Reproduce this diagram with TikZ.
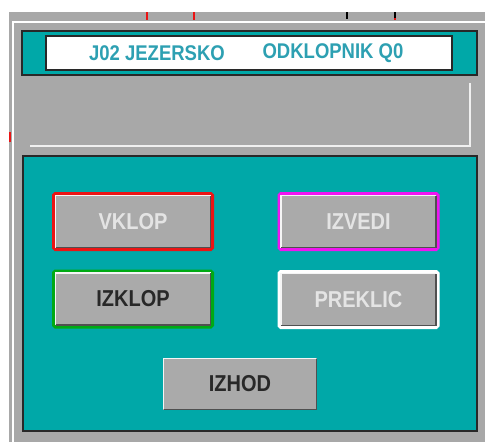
\documentclass[tikz,border=0pt]{standalone}
\usepackage{fontspec}
\usepackage{graphicx}
\setmainfont{Liberation Sans}
\definecolor{panelgray}{RGB}{168,168,168}
\definecolor{btngray}{RGB}{170,170,170}
\definecolor{tealbg}{RGB}{0,168,168}
\definecolor{titletxt}{RGB}{45,160,178}
\definecolor{darkline}{RGB}{40,40,40}
\definecolor{bevdark}{RGB}{80,80,80}
\definecolor{bevlight}{RGB}{245,245,245}
\definecolor{distxt}{RGB}{228,228,228}
\definecolor{ledred}{RGB}{235,20,20}
\definecolor{ledgreen}{RGB}{0,170,20}
\definecolor{ledmag}{RGB}{240,20,240}
\newcommand{\bevelbox}[2]{%
  \draw[bevlight, line width=1.5pt] ([xshift=#2,yshift=#2]#1.south west) |- ([xshift=-#2,yshift=-#2]#1.north east);
  \draw[bevdark, line width=1.5pt] ([xshift=#2,yshift=#2]#1.south west) -| ([xshift=-#2,yshift=-#2]#1.north east);
}
\newcommand{\tallt}[1]{\scalebox{1}[1.15]{#1}}
\begin{document}
\begin{tikzpicture}[x=1pt,y=-1pt,
  btn/.style={draw=#1, line width=3.5pt, fill=btngray, rounded corners=1.5pt, inner sep=0pt,
    minimum width=158.5pt, minimum height=55.5pt, font=\bfseries\fontsize{20}{20}\selectfont},
  plainbtn/.style={draw=none, fill=btngray, inner sep=0pt,
    minimum width=154pt, minimum height=52pt, font=\bfseries\fontsize{20}{20}\selectfont},
  titletext/.style={text=titletxt, inner sep=0pt, font=\bfseries\fontsize{18.5}{18.5}\selectfont},
  tick/.style={line width=2pt}]
\useasboundingbox (0,0) rectangle (485,442);
\fill[white] (0,0) rectangle (485,442);
% window background
\fill[panelgray] (9,12) rectangle (485,442);
\draw[white, line width=1.2pt] (13,442) -- (13,22) -- (485,22);
% top ticks
\draw[tick, ledred] (147,12) -- (147,20);
\draw[tick, ledred] (194,12) -- (194,20);
\draw[tick, black] (347,12) -- (347,19);
\draw[tick, black] (395,12) -- (395,18);
\draw[tick, ledred] (395,18) -- (395,20);
\fill[ledred] (9,132) rectangle (11,142);
% title bar
\draw[darkline, line width=2pt, fill=tealbg] (22,31) rectangle (477,75);
\draw[darkline, line width=1.5pt, fill=white] (46,36) rectangle (452,70);
\node[titletext] (t1) at (157,53) {\tallt{J02 JEZERSKO}};
\node[titletext] (t2) at (333,53) {\tallt{ODKLOPNIK Q0}};
% sunken area
\draw[white!88!gray, line width=1.2pt] (30,146) -- (470,146) -- (470,83);
% main panel
\draw[darkline, line width=2pt, fill=tealbg] (23,156) rectangle (477,431);
% buttons
\node[btn=ledred, text=distxt] (vklop) at (133,221.5) {\tallt{VKLOP}};
\bevelbox{vklop}{3.5pt}
\node[btn=ledgreen, text=darkline] (izklop) at (133,299) {\tallt{IZKLOP}};
\bevelbox{izklop}{3.5pt}
\node[btn=ledmag, text=distxt] (izvedi) at (358.5,221.5) {\tallt{IZVEDI}};
\bevelbox{izvedi}{3.5pt}
\node[btn=white, text=distxt] (preklic) at (358.5,299.5) {\tallt{PREKLIC}};
\bevelbox{preklic}{3.5pt}
\node[plainbtn, text=darkline] (izhod) at (240,384) {\tallt{IZHOD}};
\bevelbox{izhod}{0.75pt}
\end{tikzpicture}
\end{document}
